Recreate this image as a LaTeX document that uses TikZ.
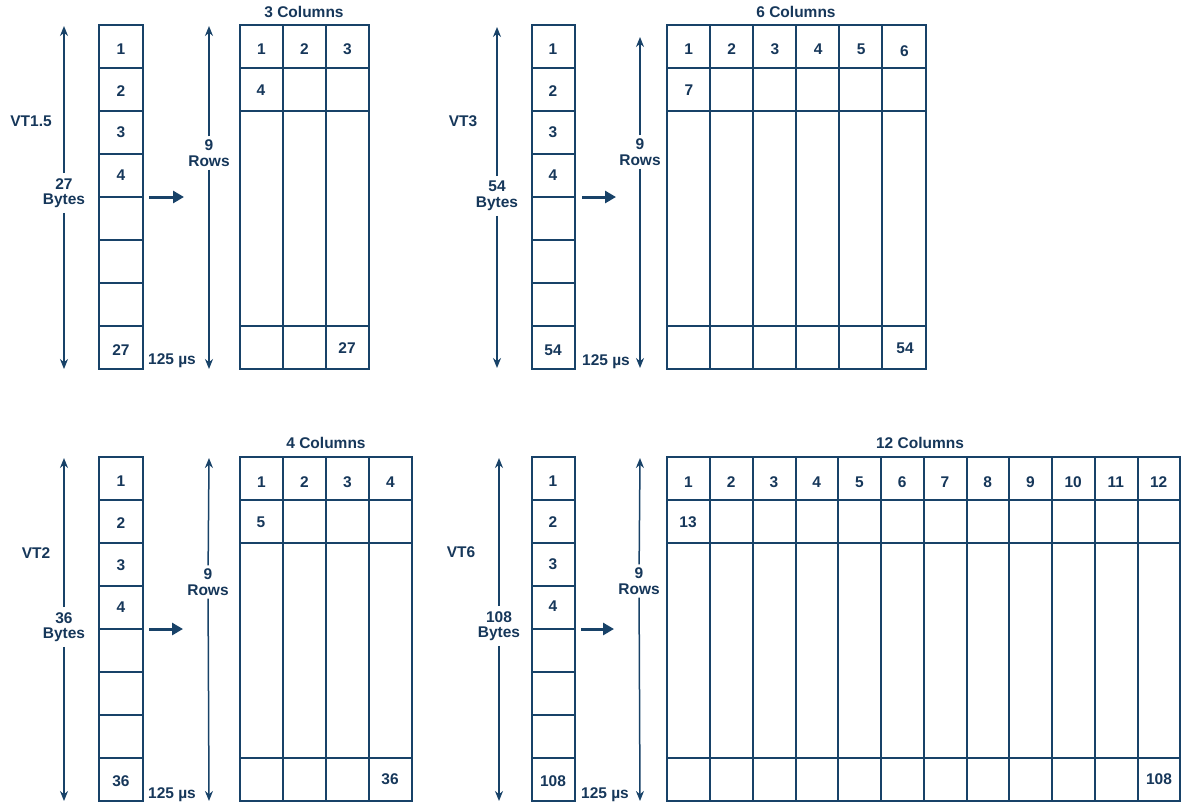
\documentclass[tikz,border=0pt]{standalone}
\usepackage{fontspec}
\setmainfont{Liberation Sans}
\usetikzlibrary{arrows.meta}
\definecolor{ln}{RGB}{24,66,104}
\definecolor{tx}{RGB}{22,55,90}
\begin{document}
\begin{tikzpicture}[x=1pt,y=-1pt,
  font=\fontsize{15.5}{16.5}\selectfont\bfseries,
  grid/.style={draw=ln, line width=1.7pt},
  lbl/.style={text=tx, inner sep=1pt},
  dim/.style={draw=ln, line width=1.5pt, -{Stealth[length=10pt,width=8pt]}},
  push/.style={draw=ln, line width=3pt, -{Triangle[length=11pt,width=12pt]}},
  gap/.style={fill=white, text=tx, align=center, inner xsep=2pt, inner ysep=5pt}]
\useasboundingbox[fill=white] (0,0) rectangle (1186,807);

% ---------------- strips ----------------
\draw[grid] (99,25) rectangle (143,369);
\foreach \yy in {68,111,154,197,240,283,326} \draw[grid] (99,\yy) -- (143,\yy);
\draw[grid] (532,25) rectangle (575,369);
\foreach \yy in {68,111,154,197,240,283,326} \draw[grid] (532,\yy) -- (575,\yy);
\draw[grid] (99,457) rectangle (143,801);
\foreach \yy in {500,543,586,629,672,715,758} \draw[grid] (99,\yy) -- (143,\yy);
\draw[grid] (532,457) rectangle (575,801);
\foreach \yy in {500,543,586,629,672,715,758} \draw[grid] (532,\yy) -- (575,\yy);

% strip labels
\foreach \t/\yy [count=\i] in {1/49,2/91,3/132,4/175,27/350} \node[lbl] (sa\i) at (121,\yy) {\t};
\foreach \t/\yy [count=\i] in {1/49,2/91,3/132,4/175,54/350} \node[lbl] (sb\i) at (553,\yy) {\t};
\foreach \t/\yy [count=\i] in {1/481,2/523,3/565,4/607,36/781} \node[lbl] (sc\i) at (121,\yy) {\t};
\foreach \t/\yy [count=\i] in {1/481,2/522,3/564,4/606,108/781} \node[lbl] (sd\i) at (553,\yy) {\t};

% ---------------- grids ----------------
% 3 columns
\draw[grid] (240,25) rectangle (369,369);
\foreach \yy in {68,111,326} \draw[grid] (240,\yy) -- (369,\yy);
\foreach \xx in {283,326} \draw[grid] (\xx,25) -- (\xx,369);
\node[lbl] (ha) at (304,12) {3 Columns};
\foreach \k in {1,2,3} \node[lbl] (ga\k) at ({240+43*(\k-1)+21.5},49) {\k};
\node[lbl] (ga4) at (261,90) {4};
\node[lbl] (ga27) at (347,348) {27};

% 6 columns
\draw[grid] (667,25) rectangle (926,369);
\foreach \yy in {68,111,326} \draw[grid] (667,\yy) -- (926,\yy);
\foreach \xx in {710,753,796,839,882} \draw[grid] (\xx,25) -- (\xx,369);
\node[lbl] (hb) at (796,12) {6 Columns};
\foreach \k in {1,...,6} \node[lbl] (gb\k) at ({667+43.17*(\k-1)+21.6},{\k==6 ? 51 : 49}) {\k};
\node[lbl] (gb7) at (689,90) {7};
\node[lbl] (gb54) at (905,348) {54};

% 4 columns
\draw[grid] (240,457) rectangle (412,801);
\foreach \yy in {500,543,758} \draw[grid] (240,\yy) -- (412,\yy);
\foreach \xx in {283,326,369} \draw[grid] (\xx,457) -- (\xx,801);
\node[lbl] (hc) at (326,443) {4 Columns};
\foreach \k in {1,...,4} \node[lbl] (gc\k) at ({240+43*(\k-1)+21.5},482) {\k};
\node[lbl] (gc5) at (261,522) {5};
\node[lbl] (gc36) at (390,779) {36};

% 12 columns
\draw[grid] (667,457) rectangle (1180,801);
\foreach \yy in {500,543,758} \draw[grid] (667,\yy) -- (1180,\yy);
\foreach \xx in {710,753,796,838,881,924,967,1009,1052,1095,1138} \draw[grid] (\xx,457) -- (\xx,801);
\node[lbl] (hd) at (920,443) {12 Columns};
\foreach \k in {1,...,12} \node[lbl] (gd\k) at ({667+42.75*(\k-1)+21.4},482) {\k};
\node[lbl] (gd13) at (688,522) {13};
\node[lbl] (gd108) at (1159,779) {108};

% ---------------- side labels ----------------
\node[lbl] (vta) at (31,121) {VT1.5};
\node[lbl] (vtb) at (463,121) {VT3};
\node[lbl] (vtc) at (36,553) {VT2};
\node[lbl] (vtd) at (461,552) {VT6};
\node[lbl] (usa) at (172,361) {125 µs};
\node[lbl] (usb) at (606,362) {125 µs};
\node[lbl] (usc) at (172,795) {125 µs};
\node[lbl] (usd) at (605,795) {125 µs};

% ---------------- dimension arrows ----------------
% top-left
\coordinate (a1t) at (64,26); \coordinate (a1b) at (64,369);
\node[gap] (b1) at (64,193) {27\\[-1pt]Bytes};
\draw[dim] (b1) -- (a1t); \draw[dim] (b1) -- (a1b);
\coordinate (r1t) at (209,26); \coordinate (r1b) at (209,369);
\node[gap, inner ysep=3pt] (r1) at (209,153) {9\\[-0.5pt]Rows};
\draw[dim] (r1) -- (r1t); \draw[dim] (r1) -- (r1b);
% top-right
\coordinate (a2t) at (497,27); \coordinate (a2b) at (497,368);
\node[gap] (b2) at (497,196) {54\\[-1pt]Bytes};
\draw[dim] (b2) -- (a2t); \draw[dim] (b2) -- (a2b);
\coordinate (r2t) at (640,37); \coordinate (r2b) at (640,368);
\node[gap, inner ysep=3pt] (r2) at (640,152) {9\\[-0.5pt]Rows};
\draw[dim] (r2) -- (r2t); \draw[dim] (r2) -- (r2b);
% bottom-left
\coordinate (a3t) at (64,458); \coordinate (a3b) at (64,801);
\node[gap] (b3) at (64,627) {36\\[-1pt]Bytes};
\draw[dim] (b3) -- (a3t); \draw[dim] (b3) -- (a3b);
\coordinate (r3t) at (209,458); \coordinate (r3b) at (209,801);
\node[gap, inner ysep=3pt] (r3) at (208,582) {9\\[-0.5pt]Rows};
\draw[dim] (r3) -- (r3t); \draw[dim] (r3) -- (r3b);
% bottom-right
\coordinate (a4t) at (499,458); \coordinate (a4b) at (499,801);
\node[gap] (b4) at (499,626) {108\\[-1pt]Bytes};
\draw[dim] (b4) -- (a4t); \draw[dim] (b4) -- (a4b);
\coordinate (r4t) at (640,458); \coordinate (r4b) at (640,801);
\node[gap, inner ysep=3pt] (r4) at (639,581) {9\\[-0.5pt]Rows};
\draw[dim] (r4) -- (r4t); \draw[dim] (r4) -- (r4b);

% ---------------- push arrows ----------------
\coordinate (p1s) at (149,197); \coordinate (p1e) at (184,197);
\draw[push] (p1s) -- (p1e);
\coordinate (p2s) at (582,197); \coordinate (p2e) at (616,197);
\draw[push] (p2s) -- (p2e);
\coordinate (p3s) at (149,629); \coordinate (p3e) at (183,629);
\draw[push] (p3s) -- (p3e);
\coordinate (p4s) at (581,629); \coordinate (p4e) at (614,629);
\draw[push] (p4s) -- (p4e);
\end{tikzpicture}
\end{document}
